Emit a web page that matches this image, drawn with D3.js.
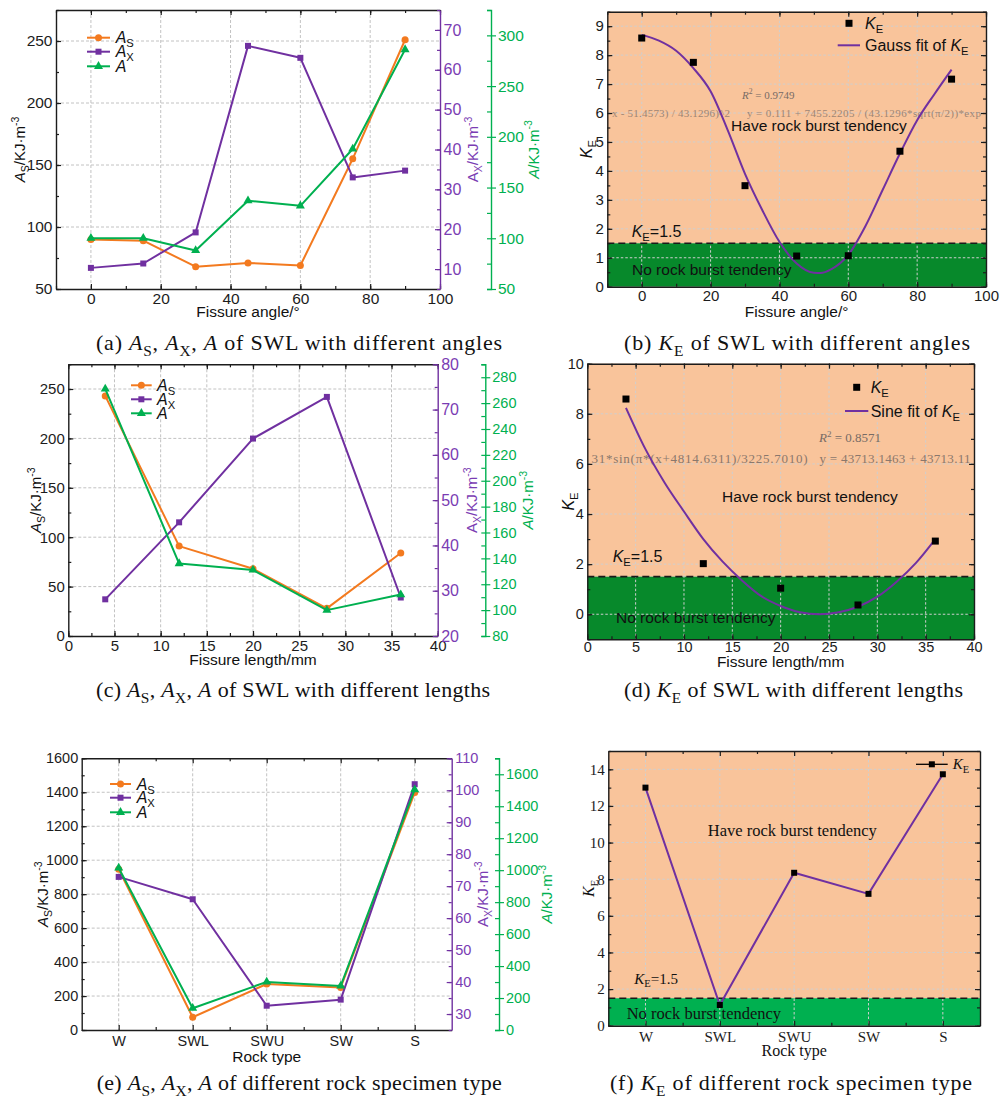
<!DOCTYPE html>
<html>
<head>
<meta charset="utf-8">
<title>Energy indices of fissured rock specimens</title>
<script src="https://cdn.jsdelivr.net/npm/d3@7/dist/d3.min.js"></script>
<style>
  html, body { margin: 0; padding: 0; background: #fff; }
  svg { display: block; }
</style>
</head>
<body>
<svg id="fig" width="1003" height="1098"></svg>
<script>
// ---------- (a)/(b) SWL with different fissure angles ----------
const angles   = [0, 15, 30, 45, 60, 75, 90];
const angleAS  = [90, 89, 68, 71, 69, 155, 251];
const angleAX  = [10.3, 11.4, 19.2, 66.0, 63.0, 33.0, 34.7];
const angleA   = [100, 100, 88, 137, 132, 188, 286];
const angleKE  = [8.59, 7.75, 3.49, 1.06, 1.07, 4.68, 7.17];
// Gauss fit of KE, sampled along the fitted curve
const gaussFitAngle = [0, 5, 10, 15, 20, 25, 30, 35, 40, 45, 50, 52, 55, 60, 65, 70, 75, 80, 85, 90];
const gaussFitKE    = [8.70, 8.50, 8.15, 7.55, 6.75, 5.40, 3.90, 2.65, 1.55, 0.80, 0.48, 0.47, 0.60, 1.10, 2.10, 3.35, 4.60, 5.75, 6.65, 7.50];

// ---------- (c)/(d) SWL with different fissure lengths ----------
const lengths   = [4, 12, 20, 28, 36];
const lengthAS  = [243, 91, 68, 28, 84];
const lengthAX  = [28.1, 45.1, 63.6, 72.8, 28.5];
const lengthA   = [271, 136, 131, 100, 112];
const lengthKE  = [8.59, 2.02, 1.04, 0.37, 2.92];
// Sine fit of KE, sampled along the fitted curve
const sineFitLength = [4, 6, 8, 10, 12, 14, 16, 18, 20, 22, 24, 26, 28, 30, 32, 34, 36];
const sineFitKE     = [8.24, 6.60, 5.25, 4.10, 3.00, 2.10, 1.35, 0.72, 0.33, 0.08, 0.00, 0.08, 0.30, 0.70, 1.30, 2.05, 3.00];

// ---------- (e)/(f) different rock specimen types ----------
const rockTypes = ['W', 'SWL', 'SWU', 'SW', 'S'];
const rockAS    = [946, 75, 271, 251, 1398];
const rockAX    = [72.9, 65.9, 32.6, 34.5, 101.9];
const rockA     = [1014, 136, 301, 276, 1504];
const rockKE    = [13.0, 1.13, 8.35, 7.2, 13.73];

const keThreshold = 1.5;

// ---------- tick values ----------
const angleTicks  = [0, 20, 40, 60, 80, 100];
const lengthTicks = [0, 5, 10, 15, 20, 25, 30, 35, 40];

// fragments of the fit equations printed inside the KE plots
const gaussEqLeft  = 'x - 51.4573) / 43.1296)^2';
const gaussEqRight = 'y = 0.111 + 7455.2205 / (43.1296*sqrt(π/2))*exp';
const sineEqLeft   = '31*sin(π*(x+4814.6311)/3225.7010)';
const sineEqRight  = 'y = 43713.1463 + 43713.11';

// ---------- drawing ----------
const svg = d3.select('#fig');
const SANS = '"Liberation Sans", Arial, Helvetica, sans-serif';
const SERIF = '"Liberation Serif", "Times New Roman", Times, serif';
const C = {
  S: '#F37A1F', X: '#7030A0', Xtxt: '#7A3CB3', A: '#00B050',
  frame: '#1c1c1c', grid: '#c2c2c2', peach: '#F9C49B',
  darkGreen: '#07892B', brightGreen: '#00B050'
};

function rich(text, parts, size) {
  let cur = 0;
  parts.forEach(p => {
    const ts = text.append('tspan').text(p.t);
    const target = p.sub ? size * 0.25 : (p.sup ? -size * 0.42 : 0);
    if (target !== cur) ts.attr('dy', (target - cur).toFixed(2));
    cur = target;
    if (p.sub || p.sup) ts.attr('font-size', (size * 0.7).toFixed(1));
    if (p.i) ts.attr('font-style', 'italic');
  });
  return text;
}

function label(g, x, y, parts, o = {}) {
  const size = o.size || 15;
  const t = g.append('text').attr('x', x).attr('y', y)
    .attr('font-family', o.font || SANS).attr('font-size', size)
    .attr('fill', o.color || '#111').attr('text-anchor', o.anchor || 'start');
  if (o.rotate) t.attr('transform', `rotate(-90,${x},${y})`);
  if (o.opacity) t.attr('opacity', o.opacity);
  if (o.width) t.attr('textLength', o.width).attr('lengthAdjust', o.adjust || 'spacing');
  rich(t, typeof parts === 'string' ? [{ t: parts }] : parts, size);
  return t;
}

function axis(g, kind, scale, values, o) {
  const make = { left: d3.axisLeft, right: d3.axisRight, top: d3.axisTop, bottom: d3.axisBottom }[kind];
  const a = make(scale).tickValues(values).tickSizeInner(o.size)
    .tickSizeOuter(o.outer || 0).tickPadding(o.pad == null ? 3 : o.pad)
    .tickFormat(o.noLabel ? () => '' : (d => String(d)));
  const ga = g.append('g').attr('transform', `translate(${o.tx || 0},${o.ty || 0})`).call(a);
  const color = o.color || C.frame;
  ga.attr('font-family', o.font || SANS).attr('font-size', o.fs || 15);
  ga.select('.domain').attr('stroke', color).attr('stroke-width', 1.4);
  ga.selectAll('.tick line').attr('stroke', color).attr('stroke-width', 1.2);
  ga.selectAll('.tick text').attr('fill', o.textColor || color);
  if (o.noDomain) ga.select('.domain').remove();
  return ga;
}

function markers(g, pts, shape, color, s) {
  const sel = g.append('g').attr('fill', color);
  if (shape === 'circle') {
    sel.selectAll('circle').data(pts).join('circle')
      .attr('cx', d => d[0]).attr('cy', d => d[1]).attr('r', s / 2);
  } else if (shape === 'square') {
    sel.selectAll('rect').data(pts).join('rect')
      .attr('x', d => d[0] - s / 2).attr('y', d => d[1] - s / 2).attr('width', s).attr('height', s);
  } else {
    const tri = d3.symbol(d3.symbolTriangle, s * s * 0.433)();
    sel.selectAll('path').data(pts).join('path')
      .attr('d', tri).attr('transform', d => `translate(${d[0]},${d[1]})`);
  }
}

function series(g, xs, ys, x, y, color, shape, s) {
  const pts = xs.map((d, i) => [x(d), y(ys[i])]);
  g.append('path').attr('d', d3.line()(pts)).attr('fill', 'none')
    .attr('stroke', color).attr('stroke-width', 2).attr('stroke-linejoin', 'round');
  markers(g, pts, shape, color, s);
}

const A_S = [{ t: 'A', i: 1 }, { t: 'S', sub: 1 }];
const A_X = [{ t: 'A', i: 1 }, { t: 'X', sub: 1 }];
const A_ = [{ t: 'A', i: 1 }];
const K_E = [{ t: 'K', i: 1 }, { t: 'E', sub: 1 }];

function caption(c) {
  label(svg, c.x, c.y, c.parts, { size: 22, font: SERIF, width: c.w });
}

function dualPanel(p) {
  const g = svg.append('g');
  const { x0, x1, y0, y1, x } = p;
  const xm = p.xm || x;
  const yS = d3.scaleLinear().domain(p.yS.domain).range([y1, y0]);
  const yX = d3.scaleLinear().domain(p.yX.domain).range([y1, y0]);
  const yA = d3.scaleLinear().domain(p.yA.domain).range([y1, y0]);

  const grid = g.append('g').attr('stroke', C.grid).attr('stroke-width', 1).attr('stroke-dasharray', '3,2');
  grid.selectAll('line.gx').data(p.xGrid).join('line').attr('class', 'gx')
    .attr('x1', d => x(d)).attr('x2', d => x(d)).attr('y1', y0).attr('y2', y1);
  grid.selectAll('line.gy').data(p.yS.grid).join('line').attr('class', 'gy')
    .attr('x1', x0).attr('x2', x1).attr('y1', d => yS(d)).attr('y2', d => yS(d));

  axis(g, 'bottom', x, p.xMajor, { ty: y1, size: -5, pad: p.labelPad, fs: p.fs });
  axis(g, 'bottom', xm, p.xMinor, { ty: y1, size: -3, noLabel: true, noDomain: true });
  axis(g, 'top', x, p.xMajor, { ty: y0, size: -5, noLabel: true });
  axis(g, 'top', xm, p.xMinor, { ty: y0, size: -3, noLabel: true, noDomain: true });
  axis(g, 'left', yS, p.yS.major, { tx: x0, size: -5, pad: 3.5, fs: p.fs });
  axis(g, 'left', yS, p.yS.minor, { tx: x0, size: -3, noLabel: true, noDomain: true });
  axis(g, 'right', yX, p.yX.major, { tx: x1, size: -5, pad: 3.5, fs: p.fsX, color: C.X, textColor: C.Xtxt });
  axis(g, 'right', yX, p.yX.minor, { tx: x1, size: -3, noLabel: true, noDomain: true, color: C.X });
  axis(g, 'right', yA, p.yA.major, { tx: p.gx, size: 5, pad: 2, outer: -4, fs: p.fsA, color: C.A });
  axis(g, 'right', yA, p.yA.minor, { tx: p.gx, size: -4, noLabel: true, noDomain: true, color: C.A });

  series(g, p.xs, p.S, x, yS, C.S, 'circle', 7);
  series(g, p.xs, p.X, x, yX, C.X, 'square', 6);
  series(g, p.xs, p.A, x, yA, C.A, 'triangle', 9);

  const L = p.legend;
  [[C.S, 'circle', A_S, 7], [C.X, 'square', A_X, 6], [C.A, 'triangle', A_, 9]].forEach((e, i) => {
    const ly = L.ys[i];
    g.append('line').attr('x1', L.x1).attr('x2', L.x2).attr('y1', ly).attr('y2', ly)
      .attr('stroke', e[0]).attr('stroke-width', 2);
    markers(g, [[(L.x1 + L.x2) / 2, ly]], e[1], e[0], e[3]);
    label(g, L.tx, ly + 5.5, e[2], { size: 16 });
  });

  const my = (y0 + y1) / 2;
  label(g, p.titleX.S, my, [...A_S, { t: '/KJ·m' }, { t: '-3', sup: 1 }], { rotate: true, anchor: 'middle', size: 15 });
  label(g, p.titleX.X, my, [{ t: 'A' }, { t: 'X', sub: 1 }, { t: '/KJ·m' }, { t: '-3', sup: 1 }], { rotate: true, anchor: 'middle', size: 15, color: C.Xtxt });
  label(g, p.titleX.A, my, [...A_, { t: '/KJ·m' }, { t: '-3', sup: 1 }], { rotate: true, anchor: 'middle', size: 15, color: C.A });
  label(g, (x0 + x1) / 2, p.xTitleY, p.xTitle, { anchor: 'middle', size: 15.5 });
  caption(p.cap);
}

function kePanel(p) {
  const g = svg.append('g');
  const { x0, x1, y0, y1, x } = p;
  const xm = p.xm || x;
  const font = p.font;
  const y = d3.scaleLinear().domain(p.yDomain).range([y1, y0]);
  const yT = y(keThreshold);

  g.append('rect').attr('x', x0).attr('y', y0).attr('width', x1 - x0).attr('height', yT - y0).attr('fill', C.peach);
  g.append('rect').attr('x', x0).attr('y', yT).attr('width', x1 - x0).attr('height', y1 - yT).attr('fill', p.green);

  const grid = g.append('g').attr('stroke', '#cfcfcf').attr('stroke-width', 1).attr('stroke-dasharray', '2.5,2');
  grid.selectAll('line.gx').data(p.xGrid).join('line').attr('class', 'gx')
    .attr('x1', d => x(d)).attr('x2', d => x(d)).attr('y1', y0).attr('y2', y1);
  grid.selectAll('line.gy').data(p.yGrid).join('line').attr('class', 'gy')
    .attr('x1', x0).attr('x2', x1).attr('y1', d => y(d)).attr('y2', d => y(d));

  if (p.eq) {
    const e = p.eq;
    const col = '#776b65';
    label(g, e.rx, e.ry, [{ t: 'R', i: 1 }, { t: '2', sup: 1 }, { t: ' = ' + e.r2 }], { font: SERIF, size: e.size, color: col });
    label(g, e.lx, e.y, e.left, { font: SERIF, size: e.size, color: col, width: e.lw, opacity: e.opacity });
    label(g, e.rx2, e.y, e.right, { font: SERIF, size: e.size, color: col, width: e.rw, opacity: e.opacity });
  }

  g.append('line').attr('x1', x0).attr('x2', x1).attr('y1', yT).attr('y2', yT)
    .attr('stroke', '#1a1a1a').attr('stroke-width', 1.6).attr('stroke-dasharray', '7,4');

  const t = p.texts;
  label(g, t.kx, t.ky, [...K_E, { t: '=1.5' }], { font, size: t.ks });
  label(g, t.hx, t.hy, 'Have rock burst tendency', { font, size: t.size, anchor: 'middle' });
  label(g, t.nx, t.ny, 'No rock burst tendency', { font, size: t.size });

  if (p.fit) {
    const line = d3.line().x(d => x(d[0])).y(d => y(d[1])).curve(d3.curveMonotoneX);
    g.append('path').attr('d', line(p.fit.xs.map((d, i) => [d, p.fit.ys[i]])))
      .attr('fill', 'none').attr('stroke', C.X).attr('stroke-width', 2);
  } else {
    const pts = p.xs.map((d, i) => [x(d), y(p.ks[i])]);
    g.append('path').attr('d', d3.line()(pts)).attr('fill', 'none').attr('stroke', C.X).attr('stroke-width', 2);
  }
  markers(g, p.xs.map((d, i) => [x(d), y(p.ks[i])]), 'square', '#000', p.sq);

  axis(g, 'bottom', x, p.xMajor, { ty: y1, size: -5, pad: p.labelPad, fs: p.fs, font });
  axis(g, 'bottom', xm, p.xMinor, { ty: y1, size: -3, noLabel: true, noDomain: true });
  axis(g, 'top', x, p.xMajor, { ty: y0, size: -5, noLabel: true });
  axis(g, 'top', xm, p.xMinor, { ty: y0, size: -3, noLabel: true, noDomain: true });
  axis(g, 'left', y, p.yMajor, { tx: x0, size: -5, pad: 3.5, fs: p.fs, font });
  axis(g, 'left', y, p.yMinor, { tx: x0, size: -3, noLabel: true, noDomain: true });
  axis(g, 'right', y, p.yMajor, { tx: x1, size: -5, noLabel: true });
  axis(g, 'right', y, p.yMinor, { tx: x1, size: -3, noLabel: true, noDomain: true });

  const L = p.legend;
  if (L.fitLabel) {
    markers(g, [[L.sqx, L.sqy]], 'square', '#000', p.sq);
    label(g, L.tx, L.sqy + 6, K_E, { font, size: L.size });
    g.append('line').attr('x1', L.lx1).attr('x2', L.lx2).attr('y1', L.ly).attr('y2', L.ly)
      .attr('stroke', C.X).attr('stroke-width', 2);
    label(g, L.tx, L.ly + 6, [{ t: L.fitLabel }, ...K_E], { font, size: L.size });
  } else {
    g.append('line').attr('x1', L.lx1).attr('x2', L.lx2).attr('y1', L.ly).attr('y2', L.ly)
      .attr('stroke', '#000').attr('stroke-width', 1.3);
    markers(g, [[(L.lx1 + L.lx2) / 2, L.ly]], 'square', '#000', p.sq);
    label(g, L.tx, L.ly + 5, K_E, { font, size: L.size });
  }

  label(g, p.titleX, (y0 + y1) / 2, K_E, { rotate: true, anchor: 'middle', size: 16, font });
  label(g, (x0 + x1) / 2, p.xTitleY, p.xTitle, { anchor: 'middle', size: p.xTitleSize, font });
  caption(p.cap);
}

function capParts(letter, rest, withK) {
  if (withK) return [{ t: `(${letter}) ` }, { t: 'K', i: 1 }, { t: 'E', sub: 1 }, { t: rest }];
  return [{ t: `(${letter}) ` }, { t: 'A', i: 1 }, { t: 'S', sub: 1 }, { t: ', ' }, { t: 'A', i: 1 }, { t: 'X', sub: 1 }, { t: ', ' }, { t: 'A', i: 1 }, { t: rest }];
}

// (a)
dualPanel({
  x0: 56, x1: 440, y0: 10, y1: 289,
  x: d3.scaleLinear().domain([-10, 100]).range([56, 440]),
  xMajor: angleTicks, xMinor: d3.range(-10, 101, 10), xGrid: [0, 20, 40, 60, 80],
  yS: { domain: [50, 275], major: [50, 100, 150, 200, 250], minor: d3.range(50, 276, 25), grid: [100, 150, 200, 250] },
  yX: { domain: [5, 75], major: [10, 20, 30, 40, 50, 60, 70], minor: d3.range(5, 76, 5) },
  yA: { domain: [50, 325], major: [50, 100, 150, 200, 250, 300], minor: d3.range(50, 326, 25) },
  gx: 491, fs: 15.5, fsX: 16, fsA: 15.5, labelPad: 4,
  xs: angles, S: angleAS, X: angleAX, A: angleA,
  legend: { x1: 87, x2: 110, ys: [37.7, 51.7, 66.3], tx: 115.7 },
  titleX: { S: 25, X: 478, A: 538.5 },
  xTitle: 'Fissure angle/°', xTitleY: 317,
  cap: { x: 96, y: 350, w: 406, parts: capParts('a', ' of SWL with different angles') }
});

// (b)
kePanel({
  id: 'b', x0: 607.3, x1: 986, y0: 11.7, y1: 286.7,
  x: d3.scaleLinear().domain([-10, 100]).range([607.3, 986]),
  xMajor: angleTicks, xMinor: d3.range(-10, 101, 10), xGrid: [0, 20, 40, 60, 80],
  yDomain: [0, 9.5], yMajor: d3.range(0, 10, 1), yMinor: d3.range(0, 9.6, 0.5), yGrid: d3.range(1, 10, 1),
  green: C.darkGreen, font: SANS, fs: 15, labelPad: 4, sq: 7,
  xs: angles, ks: angleKE, fit: { xs: gaussFitAngle, ys: gaussFitKE },
  eq: { rx: 742, ry: 99, r2: '0.9749', y: 117, size: 11, opacity: 0.7,
        left: gaussEqLeft, lx: 612, lw: 118, right: gaussEqRight, rx2: 747, rw: 234 },
  texts: { kx: 631.7, ky: 236.5, ks: 16, hx: 819, hy: 131, nx: 632, ny: 274.5, size: 15.5 },
  legend: { sqx: 849, sqy: 23.3, tx: 865, lx1: 837.7, lx2: 860, ly: 45.3, fitLabel: 'Gauss fit of ', size: 16 },
  titleX: 592, xTitle: 'Fissure angle/°', xTitleY: 317, xTitleSize: 15.5,
  cap: { x: 624, y: 350, w: 346, parts: capParts('b', ' of SWL with different angles', true) }
});

// (c)
dualPanel({
  x0: 68.3, x1: 437.7, y0: 364.3, y1: 636,
  x: d3.scaleLinear().domain([0, 40]).range([68.3, 437.7]),
  xMajor: lengthTicks, xMinor: d3.range(0, 40.1, 2.5), xGrid: [5, 10, 15, 20, 25, 30, 35],
  yS: { domain: [0, 275], major: [0, 50, 100, 150, 200, 250], minor: d3.range(0, 276, 25), grid: [50, 100, 150, 200, 250] },
  yX: { domain: [20, 80], major: [20, 30, 40, 50, 60, 70, 80], minor: d3.range(20, 81, 5) },
  yA: { domain: [80, 290], major: d3.range(80, 281, 20), minor: d3.range(80, 291, 10) },
  gx: 485.3, fs: 15, fsX: 16, fsA: 14.5, labelPad: 4,
  xs: lengths, S: lengthAS, X: lengthAX, A: lengthA,
  legend: { x1: 131, x2: 151.7, ys: [385.3, 399.3, 413.3], tx: 157 },
  titleX: { S: 41.5, X: 477, A: 533 },
  xTitle: 'Fissure length/mm', xTitleY: 665,
  cap: { x: 96, y: 697, w: 394, parts: capParts('c', ' of SWL with different lengths') }
});

// (d)
kePanel({
  id: 'd', x0: 587.3, x1: 974, y0: 363.7, y1: 639.3,
  x: d3.scaleLinear().domain([0, 40]).range([587.3, 974]),
  xMajor: lengthTicks, xMinor: d3.range(0, 40.1, 2.5), xGrid: [5, 10, 15, 20, 25, 30, 35],
  yDomain: [-1, 10], yMajor: [0, 2, 4, 6, 8, 10], yMinor: d3.range(-1, 10.1, 1), yGrid: [0, 2, 4, 6, 8],
  green: C.darkGreen, font: SANS, fs: 14.5, labelPad: 2, sq: 7,
  xs: lengths, ks: lengthKE, fit: { xs: sineFitLength, ys: sineFitKE },
  eq: { rx: 819, ry: 442, r2: '0.8571', y: 462.5, size: 13, opacity: 0.85,
        left: sineEqLeft, lx: 591.5, lw: 216, right: sineEqRight, rx2: 819.5, rw: 151 },
  texts: { kx: 612.7, ky: 561.5, ks: 16, hx: 810, hy: 501.5, nx: 616, ny: 623, size: 15.5 },
  legend: { sqx: 856.7, sqy: 387.3, tx: 870.7, lx1: 845, lx2: 868.3, ly: 411, fitLabel: 'Sine fit of ', size: 16 },
  titleX: 574, xTitle: 'Fissure length/mm', xTitleY: 667, xTitleSize: 15.5,
  cap: { x: 624, y: 697, w: 339, parts: capParts('d', ' of SWL with different lengths', true) }
});

// (e)
dualPanel({
  x0: 81.7, x1: 451.7, y0: 758.3, y1: 1030,
  x: d3.scalePoint().domain(rockTypes).range([81.7, 451.7]).padding(0.5),
  xm: d3.scaleLinear().domain([-0.5, rockTypes.length - 0.5]).range([81.7, 451.7]),
  xMajor: rockTypes, xMinor: [0.5, 1.5, 2.5, 3.5], xGrid: rockTypes,
  yS: { domain: [0, 1600], major: d3.range(0, 1601, 200), minor: d3.range(0, 1601, 100), grid: d3.range(200, 1401, 200) },
  yX: { domain: [25, 110], major: d3.range(30, 111, 10), minor: d3.range(25, 111, 5) },
  yA: { domain: [0, 1700], major: d3.range(0, 1601, 200), minor: d3.range(0, 1701, 100) },
  gx: 499, fs: 14.5, fsX: 14.5, fsA: 14.5, labelPad: 6,
  xs: rockTypes, S: rockAS, X: rockAX, A: rockA,
  legend: { x1: 110, x2: 131, ys: [784, 797.7, 812.3], tx: 136.7 },
  titleX: { S: 48, X: 488.5, A: 552 },
  xTitle: 'Rock type', xTitleY: 1061.5,
  cap: { x: 96.7, y: 1090, w: 405, parts: capParts('e', ' of different rock specimen type') }
});

// (f)
kePanel({
  id: 'f', x0: 608.3, x1: 980, y0: 751, y1: 1025.7,
  x: d3.scalePoint().domain(rockTypes).range([608.3, 980]).padding(0.5),
  xm: d3.scaleLinear().domain([-0.5, rockTypes.length - 0.5]).range([608.3, 980]),
  xMajor: rockTypes, xMinor: [0.5, 1.5, 2.5, 3.5], xGrid: rockTypes,
  yDomain: [0, 15], yMajor: d3.range(0, 15, 2), yMinor: d3.range(0, 15.1, 1), yGrid: d3.range(2, 15, 2),
  green: C.brightGreen, font: SERIF, fs: 15, labelPad: 6, sq: 6,
  xs: rockTypes, ks: rockKE,
  texts: { kx: 634.3, ky: 983.5, ks: 15, hx: 792.3, hy: 835.5, nx: 626.7, ny: 1019, size: 16.5 },
  legend: { lx1: 916, lx2: 947.7, ly: 764.3, tx: 952.7, size: 15 },
  titleX: 594, xTitle: 'Rock type', xTitleY: 1055.5, xTitleSize: 16,
  cap: { x: 610, y: 1090, w: 362, parts: capParts('f', ' of different rock specimen type', true) }
});
</script>
</body>
</html>
